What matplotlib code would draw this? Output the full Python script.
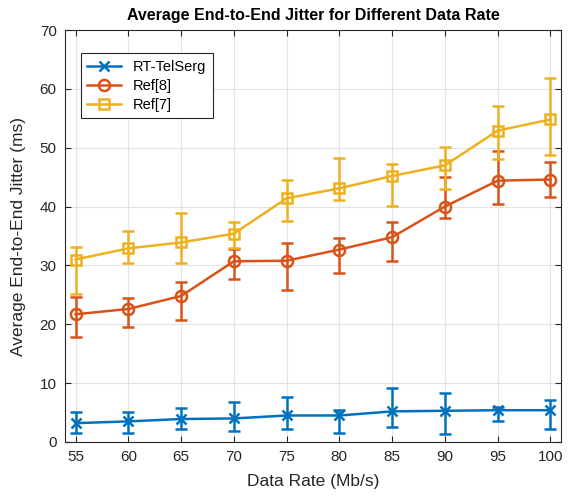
import matplotlib.pyplot as plt
import numpy as np
from matplotlib.lines import Line2D

plt.rcParams['font.family'] = ['Liberation Sans', 'DejaVu Sans']

rates = [55, 60, 65, 70, 75, 80, 85, 90, 95, 100]

# RT-TelSerg
rt_mean = [3.2, 3.5, 3.9, 4.0, 4.5, 4.5, 5.2, 5.3, 5.4, 5.4]
rt_lo = [1.5, 1.5, 2.2, 1.9, 2.2, 1.5, 2.5, 1.3, 3.5, 2.2]
rt_hi = [5.1, 5.1, 5.8, 6.8, 7.6, 5.4, 9.2, 8.3, 5.9, 7.1]

# Ref[8]
r8_mean = [21.7, 22.6, 24.8, 30.7, 30.8, 32.7, 34.8, 40.0, 44.4, 44.6]
r8_lo = [17.8, 19.5, 20.8, 27.7, 25.8, 28.7, 30.8, 38.0, 40.5, 41.6]
r8_hi = [24.6, 24.5, 27.2, 32.8, 33.8, 34.6, 37.4, 45.0, 49.4, 47.6]

# Ref[7]
r7_mean = [31.0, 32.9, 33.9, 35.4, 41.4, 43.1, 45.2, 47.0, 52.9, 54.8]
r7_lo = [25.1, 30.4, 30.4, 33.0, 37.5, 41.1, 40.1, 43.0, 48.1, 48.8]
r7_hi = [33.1, 35.8, 38.9, 37.4, 44.5, 48.2, 47.2, 50.1, 57.1, 61.8]

fig = plt.figure(figsize=(5.73, 4.97), dpi=100)
ax = fig.add_axes([0.1134, 0.1107, 0.8656, 0.8289])

series = [
    ('RT-TelSerg', rt_mean, rt_lo, rt_hi, '#0072BD', 'x', 7),
    ('Ref[8]', r8_mean, r8_lo, r8_hi, '#D95319', 'o', 8),
    ('Ref[7]', r7_mean, r7_lo, r7_hi, '#EDB120', 's', 7),
]
handles = []
for name, m, lo, hi, c, mk, ms in series:
    m = np.array(m)
    err = [m - np.array(lo), np.array(hi) - m]
    ax.errorbar(rates, m, yerr=err, color=c, marker=mk, markersize=ms,
                markerfacecolor='none', markeredgewidth=1.8, lw=1.8,
                capsize=4, capthick=1.8, elinewidth=1.8)
    handles.append(Line2D([], [], color=c, marker=mk, markersize=ms,
                          markerfacecolor='none', markeredgewidth=1.8,
                          lw=1.8, label=name))

ax.set_xlim(54, 101)
ax.set_ylim(0, 70)
ax.set_xticks(rates)
ax.set_yticks(range(0, 71, 10))
ax.grid(True, color='#e3e3e3', lw=0.8)
ax.set_axisbelow(True)
ax.tick_params(direction='in', top=True, right=True, labelsize=11,
               colors='#262626', length=4, pad=6)
for s in ax.spines.values():
    s.set_color('#262626')
    s.set_linewidth(0.8)

ax.set_xlabel('Data Rate (Mb/s)', fontsize=12.5, color='#262626', labelpad=7)
ax.set_ylabel('Average End-to-End Jitter (ms)', fontsize=12.5,
              color='#262626', labelpad=10)
ax.set_title('Average End-to-End Jitter for Different Data Rate',
             fontsize=11.5, fontweight='bold', pad=7)

leg = ax.legend(handles=handles, loc='upper left',
                bbox_to_anchor=(0.032, 0.944), fontsize=10.5,
                fancybox=False, edgecolor='#262626', framealpha=1,
                handlelength=2.3, borderaxespad=0, borderpad=0.45,
                labelspacing=0.35)
leg.get_frame().set_linewidth(0.8)

fig.savefig('out.png', dpi=100)
